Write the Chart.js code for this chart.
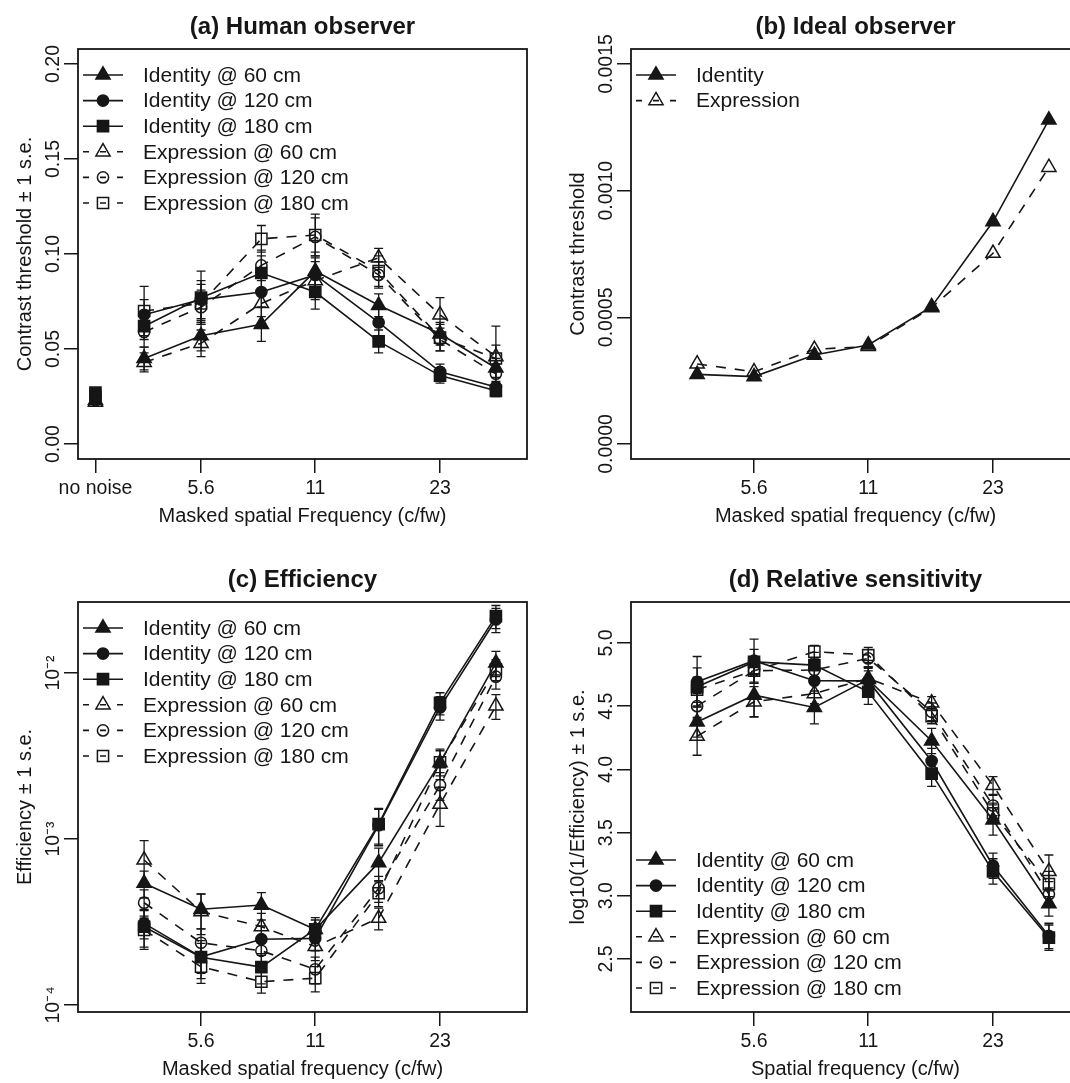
<!DOCTYPE html>
<html><head><meta charset="utf-8">
<script src="https://cdn.jsdelivr.net/npm/chart.js@4.4.1/dist/chart.umd.min.js"></script>
<style>
html,body{margin:0;padding:0;background:#fff;overflow:hidden;width:1070px;height:1083px;}
canvas{position:absolute;}
</style></head><body>
<canvas id="ca" width="553" height="553" style="left:0;top:0"></canvas>
<canvas id="cb" width="553" height="553" style="left:553px;top:0"></canvas>
<canvas id="cc" width="553" height="553" style="left:0;top:553px"></canvas>
<canvas id="cd" width="553" height="553" style="left:553px;top:553px"></canvas>
<script>
// ---------------- data ----------------
const FREQS = [4, 5.6, 8, 11, 16, 23, 32];
const NO_NOISE_FREQ = 3;
const SERIES_NAMES = ['Identity @ 60 cm','Identity @ 120 cm','Identity @ 180 cm','Expression @ 60 cm','Expression @ 120 cm','Expression @ 180 cm'];
const IDEAL_NAMES = ['Identity','Expression'];

// (a) Human observer: contrast threshold
const humanId60    = [0.045, 0.057, 0.063, 0.091, 0.073, 0.058, 0.040];
const humanId120   = [0.068, 0.076, 0.080, 0.089, 0.064, 0.038, 0.030];
const humanId180   = [0.062, 0.077, 0.090, 0.080, 0.054, 0.036, 0.028];
const humanExpr60  = [0.043, 0.053, 0.074, 0.086, 0.098, 0.068, 0.046];
const humanExpr120 = [0.059, 0.072, 0.094, 0.109, 0.089, 0.055, 0.037];
const humanExpr180 = [0.070, 0.074, 0.108, 0.110, 0.091, 0.056, 0.045];
const humanNoNoise = [0.023, 0.025, 0.027, 0.022, 0.023, 0.025];
const humanSeId60    = [0.006, 0.008, 0.009, 0.010, 0.006, 0.006, 0.005];
const humanSeId120   = [0.008, 0.010, 0.008, 0.009, 0.007, 0.004, 0.003];
const humanSeId180   = [0.007, 0.014, 0.009, 0.009, 0.006, 0.004, 0.003];
const humanSeExpr60  = [0.005, 0.007, 0.007, 0.010, 0.005, 0.009, 0.006];
const humanSeExpr120 = [0.008, 0.009, 0.008, 0.010, 0.007, 0.006, 0.005];
const humanSeExpr180 = [0.013, 0.010, 0.007, 0.011, 0.008, 0.007, 0.017];

// (b) Ideal observer: contrast threshold
const idealId   = [0.000275, 0.000266, 0.000351, 0.000391, 0.000542, 0.000878, 0.001279];
const idealExpr = [0.000316, 0.000285, 0.000374, 0.000385, 0.000538, 0.000753, 0.001092];

// (c) Efficiency
const effId60    = [5.41e-4, 3.77e-4, 4.00e-4, 2.85e-4, 7.20e-4, 2.88e-3, 1.15e-2];
const effId120   = [3.10e-4, 1.95e-4, 2.49e-4, 2.52e-4, 1.21e-3, 6.20e-3, 2.10e-2];
const effId180   = [2.96e-4, 1.94e-4, 1.69e-4, 2.86e-4, 1.23e-3, 6.60e-3, 2.20e-2];
const effExpr60  = [7.47e-4, 3.65e-4, 2.96e-4, 2.25e-4, 3.33e-4, 1.62e-3, 6.33e-3];
const effExpr120 = [4.13e-4, 2.37e-4, 2.12e-4, 1.64e-4, 5.05e-4, 2.11e-3, 9.50e-3];
const effExpr180 = [2.83e-4, 1.70e-4, 1.38e-4, 1.45e-4, 4.71e-4, 2.90e-3, 1.05e-2];
const effSeId60    = [1.0e-4, 0.9e-4, 0.75e-4, 0.4e-4, 1.6e-4, 0.6e-3, 2.0e-3];
const effSeId120   = [0.6e-4, 0.4e-4, 0.5e-4, 0.4e-4, 0.3e-3, 1.0e-3, 3.5e-3];
const effSeId180   = [0.8e-4, 0.5e-4, 0.35e-4, 0.5e-4, 0.3e-3, 1.0e-3, 3.5e-3];
const effSeExpr60  = [2.3e-4, 1.0e-4, 0.6e-4, 0.4e-4, 0.5e-4, 0.43e-3, 1.07e-3];
const effSeExpr120 = [0.8e-4, 0.5e-4, 0.4e-4, 0.3e-4, 0.9e-4, 0.4e-3, 1.5e-3];
const effSeExpr180 = [0.6e-4, 0.35e-4, 0.2e-4, 0.25e-4, 0.8e-4, 0.5e-3, 1.5e-3];

// (d) Relative sensitivity: log10(1/Efficiency)
const relId60    = [4.375, 4.587, 4.490, 4.712, 4.225, 3.600, 2.939];
const relId120   = [4.693, 4.860, 4.701, 4.700, 4.066, 3.238, 2.683];
const relId180   = [4.653, 4.850, 4.825, 4.614, 3.966, 3.193, 2.669];
const relExpr60  = [4.262, 4.534, 4.600, 4.720, 4.526, 3.873, 3.193];
const relExpr120 = [4.500, 4.780, 4.786, 4.878, 4.455, 3.714, 3.013];
const relExpr180 = [4.630, 4.780, 4.931, 4.905, 4.421, 3.653, 3.093];
const relSeId60    = [0.12, 0.17, 0.13, 0.10, 0.10, 0.12, 0.10];
const relSeId120   = [0.20, 0.17, 0.10, 0.08, 0.10, 0.10, 0.10];
const relSeId180   = [0.15, 0.10, 0.10, 0.10, 0.10, 0.10, 0.10];
const relSeExpr60  = [0.15, 0.12, 0.08, 0.08, 0.05, 0.07, 0.13];
const relSeExpr120 = [0.10, 0.10, 0.06, 0.07, 0.07, 0.08, 0.10];
const relSeExpr180 = [0.10, 0.10, 0.05, 0.06, 0.06, 0.08, 0.10];

// tick values / labels
const xTicksA = [3, 5.6, 11, 23];
const xLabelsA = ['no noise', '5.6', '11', '23'];
const xTicksB = [5.6, 11, 23];
const xLabelsB = ['5.6', '11', '23'];
const yTicksA = [0, 0.05, 0.10, 0.15, 0.20];
const yLabelsA = ['0.00', '0.05', '0.10', '0.15', '0.20'];
const yTicksB = [0, 0.0005, 0.0010, 0.0015];
const yLabelsB = ['0.0000', '0.0005', '0.0010', '0.0015'];
const yTicksC = [1e-4, 1e-3, 1e-2];
const yLabelsC = ['10\u207B\u2074', '10\u207B\u00B3', '10\u207B\u00B2'];
const yTicksD = [2.5, 3.0, 3.5, 4.0, 4.5, 5.0];
const yLabelsD = ['2.5', '3.0', '3.5', '4.0', '4.5', '5.0'];

// ---------------- styling ----------------
const FONT = '"Liberation Sans", Arial, Helvetica, sans-serif';
const INK = '#161616';
const STYLE = [
  {shape:'triangle', filled:true,  dashed:false},
  {shape:'circle',   filled:true,  dashed:false},
  {shape:'rect',     filled:true,  dashed:false},
  {shape:'triangle', filled:false, dashed:true},
  {shape:'circle',   filled:false, dashed:true},
  {shape:'rect',     filled:false, dashed:true}
];
const RADIUS = {triangle: 8.2, circle: 5.6, rect: 7.9};
const AREA = {left:78, top:49, rightPad:26, xAxisH:94};
const TICK_FONT = 19.5, LABEL_FONT = 20, LEGEND_FONT = 21;
const Y_LABEL_CENTER = 54;   // x of the rotated y tick labels' centre

function drawMarker(ctx, shape, filled, x, y) {
  const r = RADIUS[shape];
  ctx.beginPath();
  if (shape === 'triangle') {
    ctx.moveTo(x, y - r);
    ctx.lineTo(x + r * 0.866, y + r / 2);
    ctx.lineTo(x - r * 0.866, y + r / 2);
    ctx.closePath();
  } else if (shape === 'circle') {
    ctx.arc(x, y, r, 0, Math.PI * 2);
  } else {
    const h = r * Math.SQRT1_2;
    ctx.rect(x - h, y - h, 2 * h, 2 * h);
  }
  if (filled) { ctx.fillStyle = INK; ctx.fill(); }
  ctx.lineWidth = 1.5; ctx.strokeStyle = INK; ctx.stroke();
}

const panelFrame = {
  id: 'panelFrame',
  afterDraw(chart, args, opts) {
    const {ctx, chartArea: a} = chart;
    ctx.save();
    ctx.strokeStyle = INK; ctx.lineWidth = 1.8;
    ctx.strokeRect(a.left, a.top, a.right - a.left, a.bottom - a.top);
    ctx.fillStyle = INK;
    ctx.font = 'bold 24px ' + FONT;
    ctx.textAlign = 'center'; ctx.textBaseline = 'middle';
    ctx.fillText(opts.text, (a.left + a.right) / 2, 27);
    ctx.restore();
  }
};

const errorBars = {
  id: 'errorBars',
  beforeDatasetsDraw(chart, args, opts) {
    if (!opts.sets) return;
    const {ctx} = chart;
    const xs = chart.scales.x, ys = chart.scales.y;
    ctx.save();
    ctx.strokeStyle = INK; ctx.lineWidth = 1.3;
    opts.sets.forEach(s => {
      s.values.forEach((v, i) => {
        const se = s.se[i];
        const px = xs.getPixelForValue(FREQS[i]);
        const t = ys.getPixelForValue(v + se), b = ys.getPixelForValue(v - se);
        ctx.beginPath();
        ctx.moveTo(px, t); ctx.lineTo(px, b);
        ctx.moveTo(px - 4.5, t); ctx.lineTo(px + 4.5, t);
        ctx.moveTo(px - 4.5, b); ctx.lineTo(px + 4.5, b);
        ctx.stroke();
      });
    });
    ctx.restore();
  }
};

const innerLegend = {
  id: 'innerLegend',
  afterDatasetsDraw(chart, args, opts) {
    if (!opts.items) return;
    const {ctx, chartArea: a} = chart;
    ctx.save();
    opts.items.forEach((it, k) => {
      const y = a.top + opts.y0 + k * 25.6;
      const x0 = a.left + 5, x1 = a.left + 45, xm = a.left + 25;
      ctx.strokeStyle = INK; ctx.lineWidth = 1.6;
      ctx.setLineDash(it.st.dashed ? [6, 11, 6, 11, 6] : []);
      ctx.beginPath(); ctx.moveTo(x0, y); ctx.lineTo(x1, y); ctx.stroke();
      ctx.setLineDash([]);
      drawMarker(ctx, it.st.shape, it.st.filled, xm, y);
      ctx.fillStyle = INK;
      ctx.font = LEGEND_FONT + 'px ' + FONT;
      ctx.textAlign = 'left'; ctx.textBaseline = 'middle';
      ctx.fillText(it.label, a.left + 65, y + 1);
    });
    ctx.restore();
  }
};

function dataset(label, xs, ys, st, k, showLine) {
  return {
    label, data: xs.map((x, i) => ({x, y: ys[i]})),
    showLine: showLine, order: -k,
    borderColor: INK, borderWidth: 1.6, borderDash: st.dashed ? [10, 9] : [],
    pointStyle: st.shape, pointRadius: RADIUS[st.shape],
    pointBackgroundColor: st.filled ? INK : 'rgba(0,0,0,0)',
    pointBorderColor: INK, pointBorderWidth: 1.5,
    tension: 0, fill: false
  };
}

const measureCtx = document.createElement('canvas').getContext('2d');
function widest(labels) {
  measureCtx.font = TICK_FONT + 'px ' + FONT;
  return Math.max(...labels.map(l => measureCtx.measureText(l).width));
}

function xScale(ticks, labels, title) {
  return {
    type: 'logarithmic', min: 2.706, max: 38.46,
    afterBuildTicks: s => { s.ticks = ticks.map(v => ({value: v})); },
    afterFit: s => { s.height = AREA.xAxisH; },
    grid: {drawOnChartArea: false, drawTicks: true, tickLength: 14, color: INK, lineWidth: 1.5},
    border: {display: false},
    ticks: {callback: (v, i) => labels[i], autoSkip: false, maxRotation: 0, minRotation: 0,
            padding: 4, color: INK, font: {family: FONT, size: TICK_FONT}},
    title: {display: true, text: title, color: INK, font: {family: FONT, size: LABEL_FONT},
            padding: {top: 0, bottom: 25}}
  };
}

function yScale(type, min, max, ticks, labels, title) {
  // label centre x = axisRight - tickLength - padding - widest/2
  const pad = AREA.left - 14 - Y_LABEL_CENTER - widest(labels) / 2;
  return {
    type, min, max,
    afterBuildTicks: s => { s.ticks = ticks.map(v => ({value: v})); },
    afterFit: s => { s.width = AREA.left; },
    grid: {drawOnChartArea: false, drawTicks: true, tickLength: 14, color: INK, lineWidth: 1.5},
    border: {display: false},
    ticks: {callback: (v, i) => labels[i], autoSkip: false, minRotation: 90, maxRotation: 90,
            crossAlign: 'center', padding: pad, color: INK, font: {family: FONT, size: TICK_FONT}},
    title: {display: true, text: title, color: INK, font: {family: FONT, size: LABEL_FONT},
            padding: {top: 13, bottom: 0}}
  };
}

function makeChart(id, cfg) {
  new Chart(document.getElementById(id), {
    type: 'line',
    data: {datasets: cfg.datasets},
    options: {
      responsive: false, animation: false, events: [],
      layout: {padding: {left: 0, top: AREA.top, right: AREA.rightPad, bottom: 0}},
      plugins: {
        legend: {display: false}, tooltip: {enabled: false},
        panelFrame: {text: cfg.title},
        errorBars: {sets: cfg.errors},
        innerLegend: {items: cfg.legend, y0: cfg.legendY0}
      },
      scales: {x: cfg.x, y: cfg.y}
    },
    plugins: [panelFrame, errorBars, innerLegend]
  });
}

// ---------------- panel (a) ----------------
const humanSeries = [humanId60, humanId120, humanId180, humanExpr60, humanExpr120, humanExpr180];
const humanSe = [humanSeId60, humanSeId120, humanSeId180, humanSeExpr60, humanSeExpr120, humanSeExpr180];
const dsA = humanSeries.map((v, k) => dataset(SERIES_NAMES[k], FREQS, v, STYLE[k], k, true));
humanNoNoise.forEach((v, k) => dsA.push(dataset(SERIES_NAMES[k], [NO_NOISE_FREQ], [v], STYLE[k], k, false)));
makeChart('ca', {
  title: '(a) Human observer',
  datasets: dsA,
  errors: humanSeries.map((v, k) => ({values: v, se: humanSe[k]})),
  legend: SERIES_NAMES.map((n, k) => ({label: n, st: STYLE[k]})), legendY0: 26,
  x: xScale(xTicksA, xLabelsA, 'Masked spatial Frequency (c/fw)'),
  y: yScale('linear', -0.00789, 0.20789, yTicksA, yLabelsA, 'Contrast threshold \u00B1 1 s.e.')
});

// ---------------- panel (b) ----------------
const idealSeries = [idealId, idealExpr];
const idealStyle = [STYLE[0], STYLE[3]];
makeChart('cb', {
  title: '(b) Ideal observer',
  datasets: idealSeries.map((v, k) => dataset(IDEAL_NAMES[k], FREQS, v, idealStyle[k], k, true)),
  errors: null,
  legend: IDEAL_NAMES.map((n, k) => ({label: n, st: idealStyle[k]})), legendY0: 26,
  x: xScale(xTicksB, xLabelsB, 'Masked spatial frequency (c/fw)'),
  y: yScale('linear', -0.0000592, 0.0015592, yTicksB, yLabelsB, 'Contrast threshold')
});

// ---------------- panel (c) ----------------
const effSeries = [effId60, effId120, effId180, effExpr60, effExpr120, effExpr180];
const effSe = [effSeId60, effSeId120, effSeId180, effSeExpr60, effSeExpr120, effSeExpr180];
makeChart('cc', {
  title: '(c) Efficiency',
  datasets: effSeries.map((v, k) => dataset(SERIES_NAMES[k], FREQS, v, STYLE[k], k, true)),
  errors: effSeries.map((v, k) => ({values: v, se: effSe[k]})),
  legend: SERIES_NAMES.map((n, k) => ({label: n, st: STYLE[k]})), legendY0: 26,
  x: xScale(xTicksB, xLabelsB, 'Masked spatial frequency (c/fw)'),
  y: yScale('logarithmic', 9.07e-5, 0.02677, yTicksC, yLabelsC, 'Efficiency \u00B1 1 s.e.')
});

// ---------------- panel (d) ----------------
const relSeries = [relId60, relId120, relId180, relExpr60, relExpr120, relExpr180];
const relSe = [relSeId60, relSeId120, relSeId180, relSeExpr60, relSeExpr120, relSeExpr180];
makeChart('cd', {
  title: '(d) Relative sensitivity',
  datasets: relSeries.map((v, k) => dataset(SERIES_NAMES[k], FREQS, v, STYLE[k], k, true)),
  errors: relSeries.map((v, k) => ({values: v, se: relSe[k]})),
  legend: SERIES_NAMES.map((n, k) => ({label: n, st: STYLE[k]})), legendY0: 258,
  x: xScale(xTicksB, xLabelsB, 'Spatial frequency (c/fw)'),
  y: yScale('linear', 2.081, 5.324, yTicksD, yLabelsD, 'log10(1/Efficiency) \u00B1 1 s.e.')
});
</script>
</body></html>
